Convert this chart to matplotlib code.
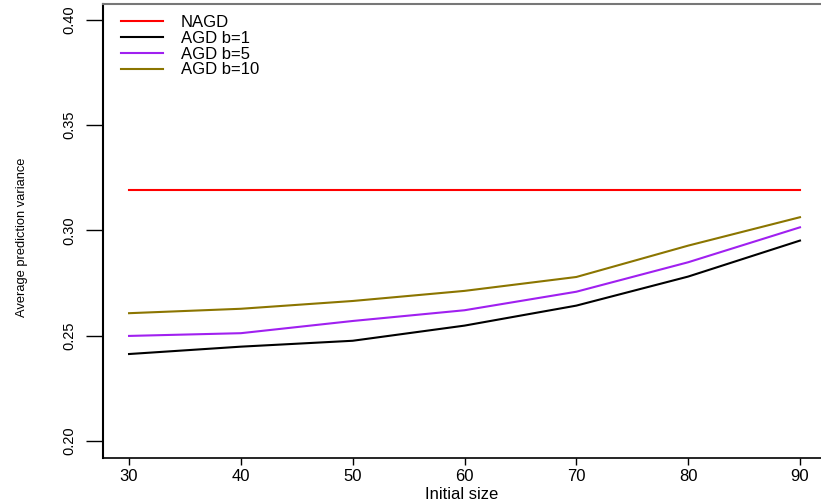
import matplotlib
matplotlib.use("Agg")
import matplotlib.pyplot as plt

plt.rcParams['font.family'] = ['Liberation Sans', 'DejaVu Sans']

initial_size = [30, 40, 50, 60, 70, 80, 90]
nagd = [0.319, 0.319, 0.319, 0.319, 0.319, 0.319, 0.319]
agd_b1 = [0.2413, 0.2448, 0.2476, 0.2548, 0.2643, 0.2781, 0.2952]
agd_b5 = [0.2499, 0.2512, 0.2570, 0.2621, 0.2709, 0.2849, 0.3015]
agd_b10 = [0.2607, 0.2628, 0.2665, 0.2713, 0.2779, 0.2928, 0.3063]

labels = ["NAGD", "AGD b=1", "AGD b=5", "AGD b=10"]
colors = ["#FF0000", "#000000", "#A020F0", "#8B7500"]
yticks = [0.20, 0.25, 0.30, 0.35, 0.40]
xticks = [30, 40, 50, 60, 70, 80, 90]

W, H = 821, 504
fig = plt.figure(figsize=(W / 100, H / 100), dpi=100)
ax = fig.add_axes([103 / W, 1 - 458 / H, 1 - 103 / W, (458 - 4) / H])

for ys, c, lab in zip([nagd, agd_b1, agd_b5, agd_b10], colors, labels):
    ax.plot(initial_size, ys, color=c, lw=1.5, label=lab)

ax.set_xlim(27.67, 91.88)
ax.set_ylim(0.1919, 0.4076)
ax.set_xticks(xticks)
ax.set_xticklabels([str(v) for v in xticks], fontsize=12)
ax.set_yticks(yticks)
ax.set_yticklabels([f"{v:.2f}" for v in yticks], fontsize=10.5, rotation=90, va='center')
ax.tick_params(axis='x', length=5, width=1, pad=3)
ax.tick_params(axis='y', length=12, width=1, pad=7)

ax.spines['right'].set_visible(False)
ax.spines['top'].set_color('#777777')
ax.spines['top'].set_linewidth(1.5)
ax.spines['left'].set_linewidth(1.5)
ax.spines['bottom'].set_linewidth(1.2)

ax.set_xlabel("Initial size", fontsize=12, labelpad=2)
ax.set_ylabel("Average prediction variance", fontsize=9.3)
ax.yaxis.set_label_coords(-0.104, 0.487)

leg = ax.legend(loc='upper left', bbox_to_anchor=(18 / (W - 103), 1 - 11 / 454),
                frameon=False, fontsize=12, handlelength=2.5, handletextpad=1.1,
                labelspacing=0.05, borderaxespad=0, borderpad=0)

fig.savefig("out.png", dpi=100)
